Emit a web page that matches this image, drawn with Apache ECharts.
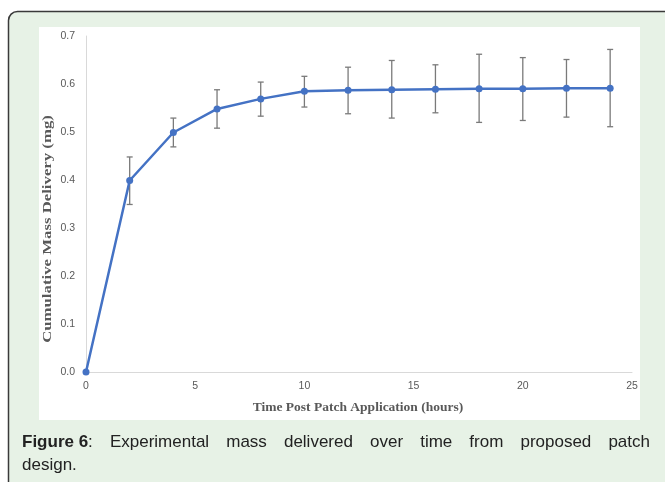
<!DOCTYPE html>
<html>
<head>
<meta charset="utf-8">
<script src="https://cdn.jsdelivr.net/npm/echarts@6/dist/echarts.min.js"></script>
<style>
html,body{margin:0;padding:0;background:#ffffff;}
#chart{width:665px;height:482px;}
</style>
</head>
<body>
<div id="chart"></div>
<script>
// ---- data ----
var hours = [0, 2, 4, 6, 8, 10, 12, 14, 16, 18, 20, 22, 24];
var massDelivered = [0, 0.399, 0.499, 0.548, 0.569, 0.585, 0.587, 0.588, 0.589, 0.590, 0.590, 0.591, 0.591];
var errorUpper = [0, 0.448, 0.529, 0.588, 0.604, 0.616, 0.635, 0.649, 0.640, 0.662, 0.655, 0.651, 0.672];
var errorLower = [0, 0.349, 0.469, 0.508, 0.533, 0.552, 0.538, 0.529, 0.540, 0.520, 0.524, 0.531, 0.511];
var xTitle = 'Time Post Patch Application (hours)';
var yTitle = 'Cumulative Mass Delivery (mg)';
var captionBold = 'Figure 6';
var captionLine1 = ': Experimental mass delivered over time from proposed patch';
var captionLine2 = 'design.';

var chart = echarts.init(document.getElementById('chart'), null, {renderer: 'canvas'});

var lineData = hours.map(function (h, i) { return [h, massDelivered[i]]; });
var errData = [];
hours.forEach(function (h, i) {
  if (errorUpper[i] !== errorLower[i]) errData.push([h, errorLower[i], errorUpper[i]]);
});

// caption justification helper
var FONT = '"Liberation Sans", Arial, sans-serif';
var CAP_SIZE = 17;
var mctx = document.createElement('canvas').getContext('2d');
function textW(t, bold) {
  mctx.font = (bold ? 'bold ' : '') + CAP_SIZE + 'px ' + FONT;
  return mctx.measureText(t).width;
}
var capLeft = 22, capRight = 650, capY1 = 442, capY2 = 465;
var words1 = [{t: captionBold, b: true, tail: ':'}];
captionLine1.replace(/^:\s*/, '').split(' ').forEach(function (w) { words1.push({t: w, b: false}); });
var totalW = 0;
words1.forEach(function (w) {
  w.w = textW(w.t, w.b) + (w.tail ? textW(w.tail, false) : 0);
  totalW += w.w;
});
var gap = (capRight - capLeft - totalW) / (words1.length - 1);
var captionGraphics = [];
var cx = capLeft;
words1.forEach(function (w) {
  captionGraphics.push({
    type: 'text', x: cx, y: capY1, z: 10,
    style: {
      text: w.tail ? '{b|' + w.t + '}{n|' + w.tail + '}' : w.t,
      rich: w.tail ? {
        b: {fontWeight: 'bold', fontSize: CAP_SIZE, fontFamily: FONT, fill: '#222222'},
        n: {fontWeight: 'normal', fontSize: CAP_SIZE, fontFamily: FONT, fill: '#222222'}
      } : undefined,
      fontSize: CAP_SIZE, fontWeight: w.b ? 'bold' : 'normal',
      fontFamily: FONT,
      fill: '#222222', textAlign: 'left', textVerticalAlign: 'middle'
    }
  });
  cx += w.w + gap;
});
captionGraphics.push({
  type: 'text', x: capLeft, y: capY2, z: 10,
  style: {
    text: captionLine2, fontSize: CAP_SIZE, fontFamily: FONT,
    fill: '#222222', textAlign: 'left', textVerticalAlign: 'middle'
  }
});

var option = {
  backgroundColor: '#ffffff',
  animation: false,
  graphic: [
    {
      type: 'rect', z: -10, silent: true,
      shape: {x: 8.5, y: 11.5, width: 700, height: 500, r: [9, 0, 0, 0]},
      style: {fill: '#e7f2e6', stroke: '#3a3a3a', lineWidth: 1.5}
    },
    {
      type: 'rect', z: -9, silent: true,
      shape: {x: 39, y: 27, width: 601, height: 393},
      style: {fill: '#ffffff'}
    },
    {
      type: 'text', x: 48, y: 229, rotation: Math.PI / 2, scaleX: 1.29, z: 5,
      style: {
        text: yTitle, fontSize: 13, fontWeight: 'bold',
        fontFamily: '"Liberation Serif", "Times New Roman", serif',
        fill: '#595959', textAlign: 'center', textVerticalAlign: 'middle'
      }
    },
    {
      type: 'text', x: 358, y: 408, z: 5,
      style: {
        text: xTitle, fontSize: 13.5, fontWeight: 'bold',
        fontFamily: '"Liberation Serif", "Times New Roman", serif',
        fill: '#595959', textAlign: 'center', textVerticalAlign: 'middle'
      }
    }
  ].concat(captionGraphics),
  grid: {left: 86, right: 33, top: 36, bottom: 110, containLabel: false},
  xAxis: {
    type: 'value', min: 0, max: 25, interval: 5,
    axisLine: {show: true, onZero: false, lineStyle: {color: '#d9d9d9', width: 1}},
    axisTick: {show: false},
    splitLine: {show: false},
    axisLabel: {color: '#595959', fontSize: 10.5, margin: 9, fontFamily: FONT}
  },
  yAxis: {
    type: 'value', min: 0, max: 0.7, interval: 0.1,
    axisLine: {show: true, lineStyle: {color: '#d9d9d9', width: 1}},
    axisTick: {show: false},
    splitLine: {show: false},
    axisLabel: {
      color: '#595959', fontSize: 10.5, margin: 11,
      fontFamily: FONT,
      formatter: function (v) { return v.toFixed(1); }
    }
  },
  series: [
    {
      type: 'custom',
      name: 'error',
      z: 2,
      data: errData,
      renderItem: function (params, api) {
        var x = api.value(0);
        var lo = api.coord([x, api.value(1)]);
        var hi = api.coord([x, api.value(2)]);
        var hw = 3;
        var st = {stroke: '#7a7a7a', lineWidth: 1.3};
        return {
          type: 'group',
          children: [
            {type: 'line', shape: {x1: hi[0], y1: hi[1], x2: lo[0], y2: lo[1]}, style: st},
            {type: 'line', shape: {x1: hi[0] - hw, y1: hi[1], x2: hi[0] + hw, y2: hi[1]}, style: st},
            {type: 'line', shape: {x1: lo[0] - hw, y1: lo[1], x2: lo[0] + hw, y2: lo[1]}, style: st}
          ]
        };
      }
    },
    {
      type: 'line',
      name: 'mass',
      z: 3,
      data: lineData,
      symbol: 'circle',
      symbolSize: 7,
      lineStyle: {color: '#4472c4', width: 2.5},
      itemStyle: {color: '#4472c4'}
    }
  ]
};
chart.setOption(option);
</script>
</body>
</html>
